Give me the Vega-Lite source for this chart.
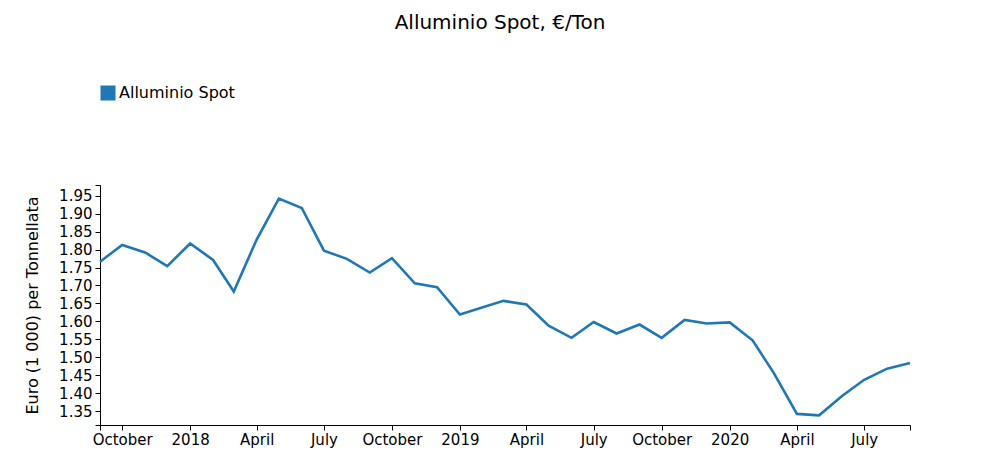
{
  "$schema": "https://vega.github.io/schema/vega-lite/v6.json",
  "width": 810,
  "height": 240,
  "autosize": "none",
  "padding": {"left": 100, "top": 185, "right": 90, "bottom": 50},
  "background": "white",
  "config": {
    "font": "DejaVu Sans",
    "view": {"stroke": null},
    "axis": {"grid": false, "domainColor": "black", "tickColor": "black", "labelColor": "black", "titleColor": "black", "labelFont": "DejaVu Sans", "titleFont": "DejaVu Sans", "tickSize": 5}
  },
  "title": {"text": "Alluminio Spot, €/Ton", "fontSize": 20, "fontWeight": "normal", "font": "DejaVu Sans", "color": "black", "anchor": "middle", "frame": "group", "dx": -5, "offset": 52},
  "data": {
    "values": [
      {"date": "2017-09-01", "value": 1.766},
      {"date": "2017-10-01", "value": 1.813},
      {"date": "2017-11-01", "value": 1.792},
      {"date": "2017-12-01", "value": 1.754},
      {"date": "2018-01-01", "value": 1.817},
      {"date": "2018-02-01", "value": 1.771},
      {"date": "2018-03-01", "value": 1.683},
      {"date": "2018-04-01", "value": 1.828},
      {"date": "2018-05-01", "value": 1.942},
      {"date": "2018-06-01", "value": 1.916},
      {"date": "2018-07-01", "value": 1.797},
      {"date": "2018-08-01", "value": 1.774},
      {"date": "2018-09-01", "value": 1.736},
      {"date": "2018-10-01", "value": 1.776},
      {"date": "2018-11-01", "value": 1.706},
      {"date": "2018-12-01", "value": 1.695},
      {"date": "2019-01-01", "value": 1.619},
      {"date": "2019-02-01", "value": 1.639},
      {"date": "2019-03-01", "value": 1.657},
      {"date": "2019-04-01", "value": 1.647},
      {"date": "2019-05-01", "value": 1.588},
      {"date": "2019-06-01", "value": 1.554},
      {"date": "2019-07-01", "value": 1.598},
      {"date": "2019-08-01", "value": 1.566},
      {"date": "2019-09-01", "value": 1.591},
      {"date": "2019-10-01", "value": 1.554},
      {"date": "2019-11-01", "value": 1.604},
      {"date": "2019-12-01", "value": 1.594},
      {"date": "2020-01-01", "value": 1.597},
      {"date": "2020-02-01", "value": 1.547},
      {"date": "2020-03-01", "value": 1.455},
      {"date": "2020-04-01", "value": 1.342},
      {"date": "2020-05-01", "value": 1.338},
      {"date": "2020-06-01", "value": 1.392},
      {"date": "2020-07-01", "value": 1.437},
      {"date": "2020-08-01", "value": 1.468},
      {"date": "2020-09-01", "value": 1.484}
    ]
  },
  "mark": {"type": "line", "strokeWidth": 2.6},
  "encoding": {
    "x": {
      "field": "date", "type": "temporal",
      "scale": {"type": "utc", "domain": ["2017-09-01", "2020-09-01"], "nice": false},
      "axis": {
        "title": null,
        "values": [
          {"year": 2017, "month": 9, "date": 1, "utc": true},
          {"year": 2017, "month": 10, "date": 1, "utc": true},
          {"year": 2018, "month": 1, "date": 1, "utc": true},
          {"year": 2018, "month": 4, "date": 1, "utc": true},
          {"year": 2018, "month": 7, "date": 1, "utc": true},
          {"year": 2018, "month": 10, "date": 1, "utc": true},
          {"year": 2019, "month": 1, "date": 1, "utc": true},
          {"year": 2019, "month": 4, "date": 1, "utc": true},
          {"year": 2019, "month": 7, "date": 1, "utc": true},
          {"year": 2019, "month": 10, "date": 1, "utc": true},
          {"year": 2020, "month": 1, "date": 1, "utc": true},
          {"year": 2020, "month": 4, "date": 1, "utc": true},
          {"year": 2020, "month": 7, "date": 1, "utc": true},
          {"year": 2020, "month": 9, "date": 1, "utc": true}
        ],
        "labelExpr": "utcmonth(datum.value) == 8 ? '' : (utcmonth(datum.value) == 0 ? utcFormat(datum.value, '%Y') : utcFormat(datum.value, '%B'))",
        "labelFontSize": 15,
        "labelPadding": 2,
        "labelOverlap": false,
        "labelFlush": false
      }
    },
    "y": {
      "field": "value", "type": "quantitative",
      "scale": {"domain": [1.311, 1.98], "nice": false, "zero": false},
      "axis": {
        "title": "Euro (1 000) per Tonnellata",
        "titleFontSize": 16,
        "titleFontWeight": "normal",
        "titlePadding": 18,
        "values": [1.311, 1.35, 1.4, 1.45, 1.5, 1.55, 1.6, 1.65, 1.7, 1.75, 1.8, 1.85, 1.9, 1.95, 1.98],
        "labelExpr": "(datum.value < 1.32 || datum.value > 1.96) ? '' : format(datum.value, '.2f')",
        "labelFontSize": 15,
        "labelPadding": 3,
        "labelOverlap": false,
        "labelFlush": false
      }
    },
    "color": {
      "datum": "Alluminio Spot",
      "type": "nominal",
      "scale": {"range": ["#1f77b4"]},
      "legend": {
        "title": null,
        "orient": "none",
        "legendX": 0,
        "legendY": -100,
        "symbolType": "square",
        "symbolSize": 225,
        "symbolFillColor": "#1f77b4",
        "symbolStrokeColor": "#1f77b4",
        "symbolStrokeWidth": 0,
        "labelFontSize": 16,
        "labelColor": "black",
        "labelFont": "DejaVu Sans",
        "labelOffset": 3
      }
    }
  }
}
